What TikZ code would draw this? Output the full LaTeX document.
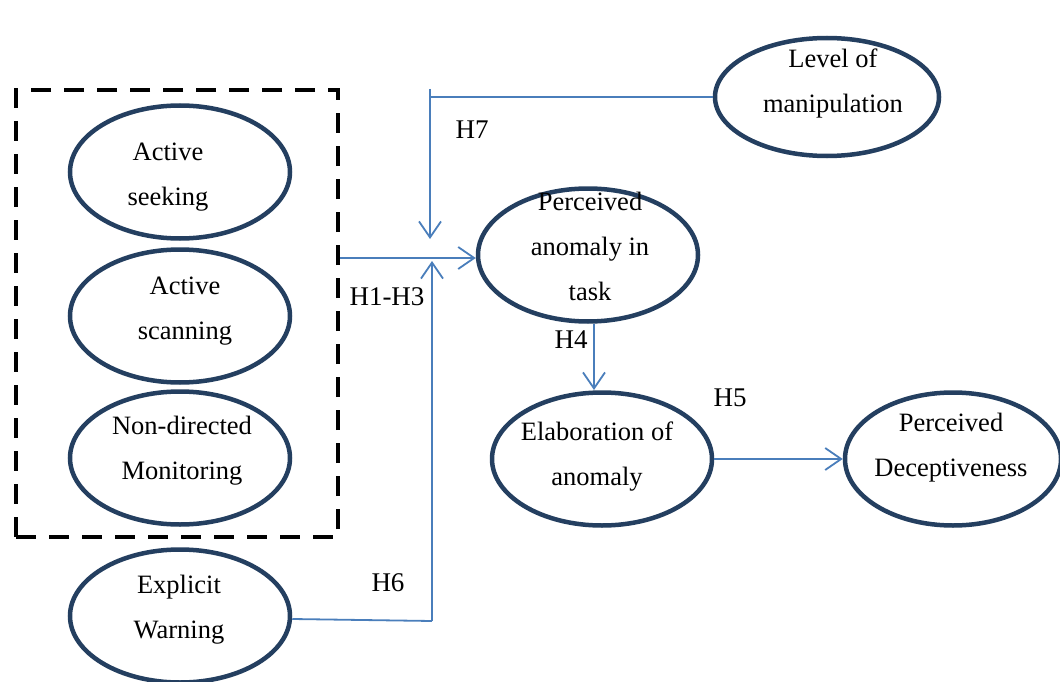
\documentclass[tikz,border=0pt]{standalone}
\usepackage{fontspec}
\setmainfont{Liberation Serif}
\usetikzlibrary{shapes.geometric,arrows.meta}
\definecolor{navy}{HTML}{243F60}
\definecolor{arrowblue}{HTML}{4A7EBB}
\begin{document}
\begin{tikzpicture}[x=1pt,y=-1pt,
  oval/.style={ellipse,draw=navy,line width=4.5pt,minimum width=220pt,minimum height=133pt,inner sep=0pt},
  txt/.style={align=center,inner sep=0pt,font=\fontsize{26.5}{45}\selectfont},
  conn/.style={draw=arrowblue,line width=1.8pt},
  arr/.style={conn,-{Straight Barb[length=16pt,width=22pt,line width=1.8pt]}},
  hlab/.style={font=\fontsize{27}{30}\selectfont,inner sep=0pt}]
\useasboundingbox (0,0) rectangle (1060,682);
\clip (0,0) rectangle (1060,682);
\node[oval] (seek) at (180,172) {};
\node[oval] (scan) at (180,316) {};
\node[oval] (mon) at (180,458) {};
\node[oval] (warn) at (180,616) {};
\node[oval,minimum width=224pt,minimum height=118pt] (lev) at (827,97) {};
\node[oval] (anom) at (588,255) {};
\node[oval] (elab) at (602,459) {};
\node[oval,minimum width=216pt] (dec) at (953,459) {};
\node[txt] (seekt) at (168,177) {Active\\seeking};
\node[txt] (scant) at (185,311.5) {Active\\scanning};
\node[txt] (mont) at (182,451) {Non-directed\\Monitoring};
\node[txt] (warnt) at (179,609.5) {Explicit\\Warning};
\node[txt] (levt) at (833,83.5) {Level of\\manipulation};
\node[txt] (anomt) at (590,246) {Perceived\\anomaly in\\task};
\node[txt] (elabt) at (597,456.5) {Elaboration of\\anomaly};
\node[txt] (dect) at (951,448) {Perceived\\Deceptiveness};
\node[draw=black,line width=4.5pt,dash pattern=on 20pt off 13pt,minimum width=322pt,minimum height=447pt,inner sep=0pt] (box) at (177,313.5) {};
\coordinate (t1) at (430,89);
\coordinate (t2) at (430,239);
\coordinate (b1) at (432,621);
\coordinate (b2) at (432,261);
\draw[conn] (lev.west) -- (lev.west -| t1) -- (t1);
\draw[arr] (t1) -- (t2);
\draw[arr] (box.east |- 0,258) -- (anom.west |- 0,258);
\draw[conn] ([yshift=-3pt]warn.east) -- (b1);
\draw[arr] (b1) -- (b2);
\draw[arr] (anom.south -| 594,0) -- (594,390);
\draw[arr] (elab.east) -- (dec.west);
\node[hlab] (h7) at (472,130) {H7};
\node[hlab] (h13) at (387,297) {H1-H3};
\node[hlab] (h4) at (571,340) {H4};
\node[hlab] (h5) at (730,398) {H5};
\node[hlab] (h6) at (388,583) {H6};
\end{tikzpicture}
\end{document}
